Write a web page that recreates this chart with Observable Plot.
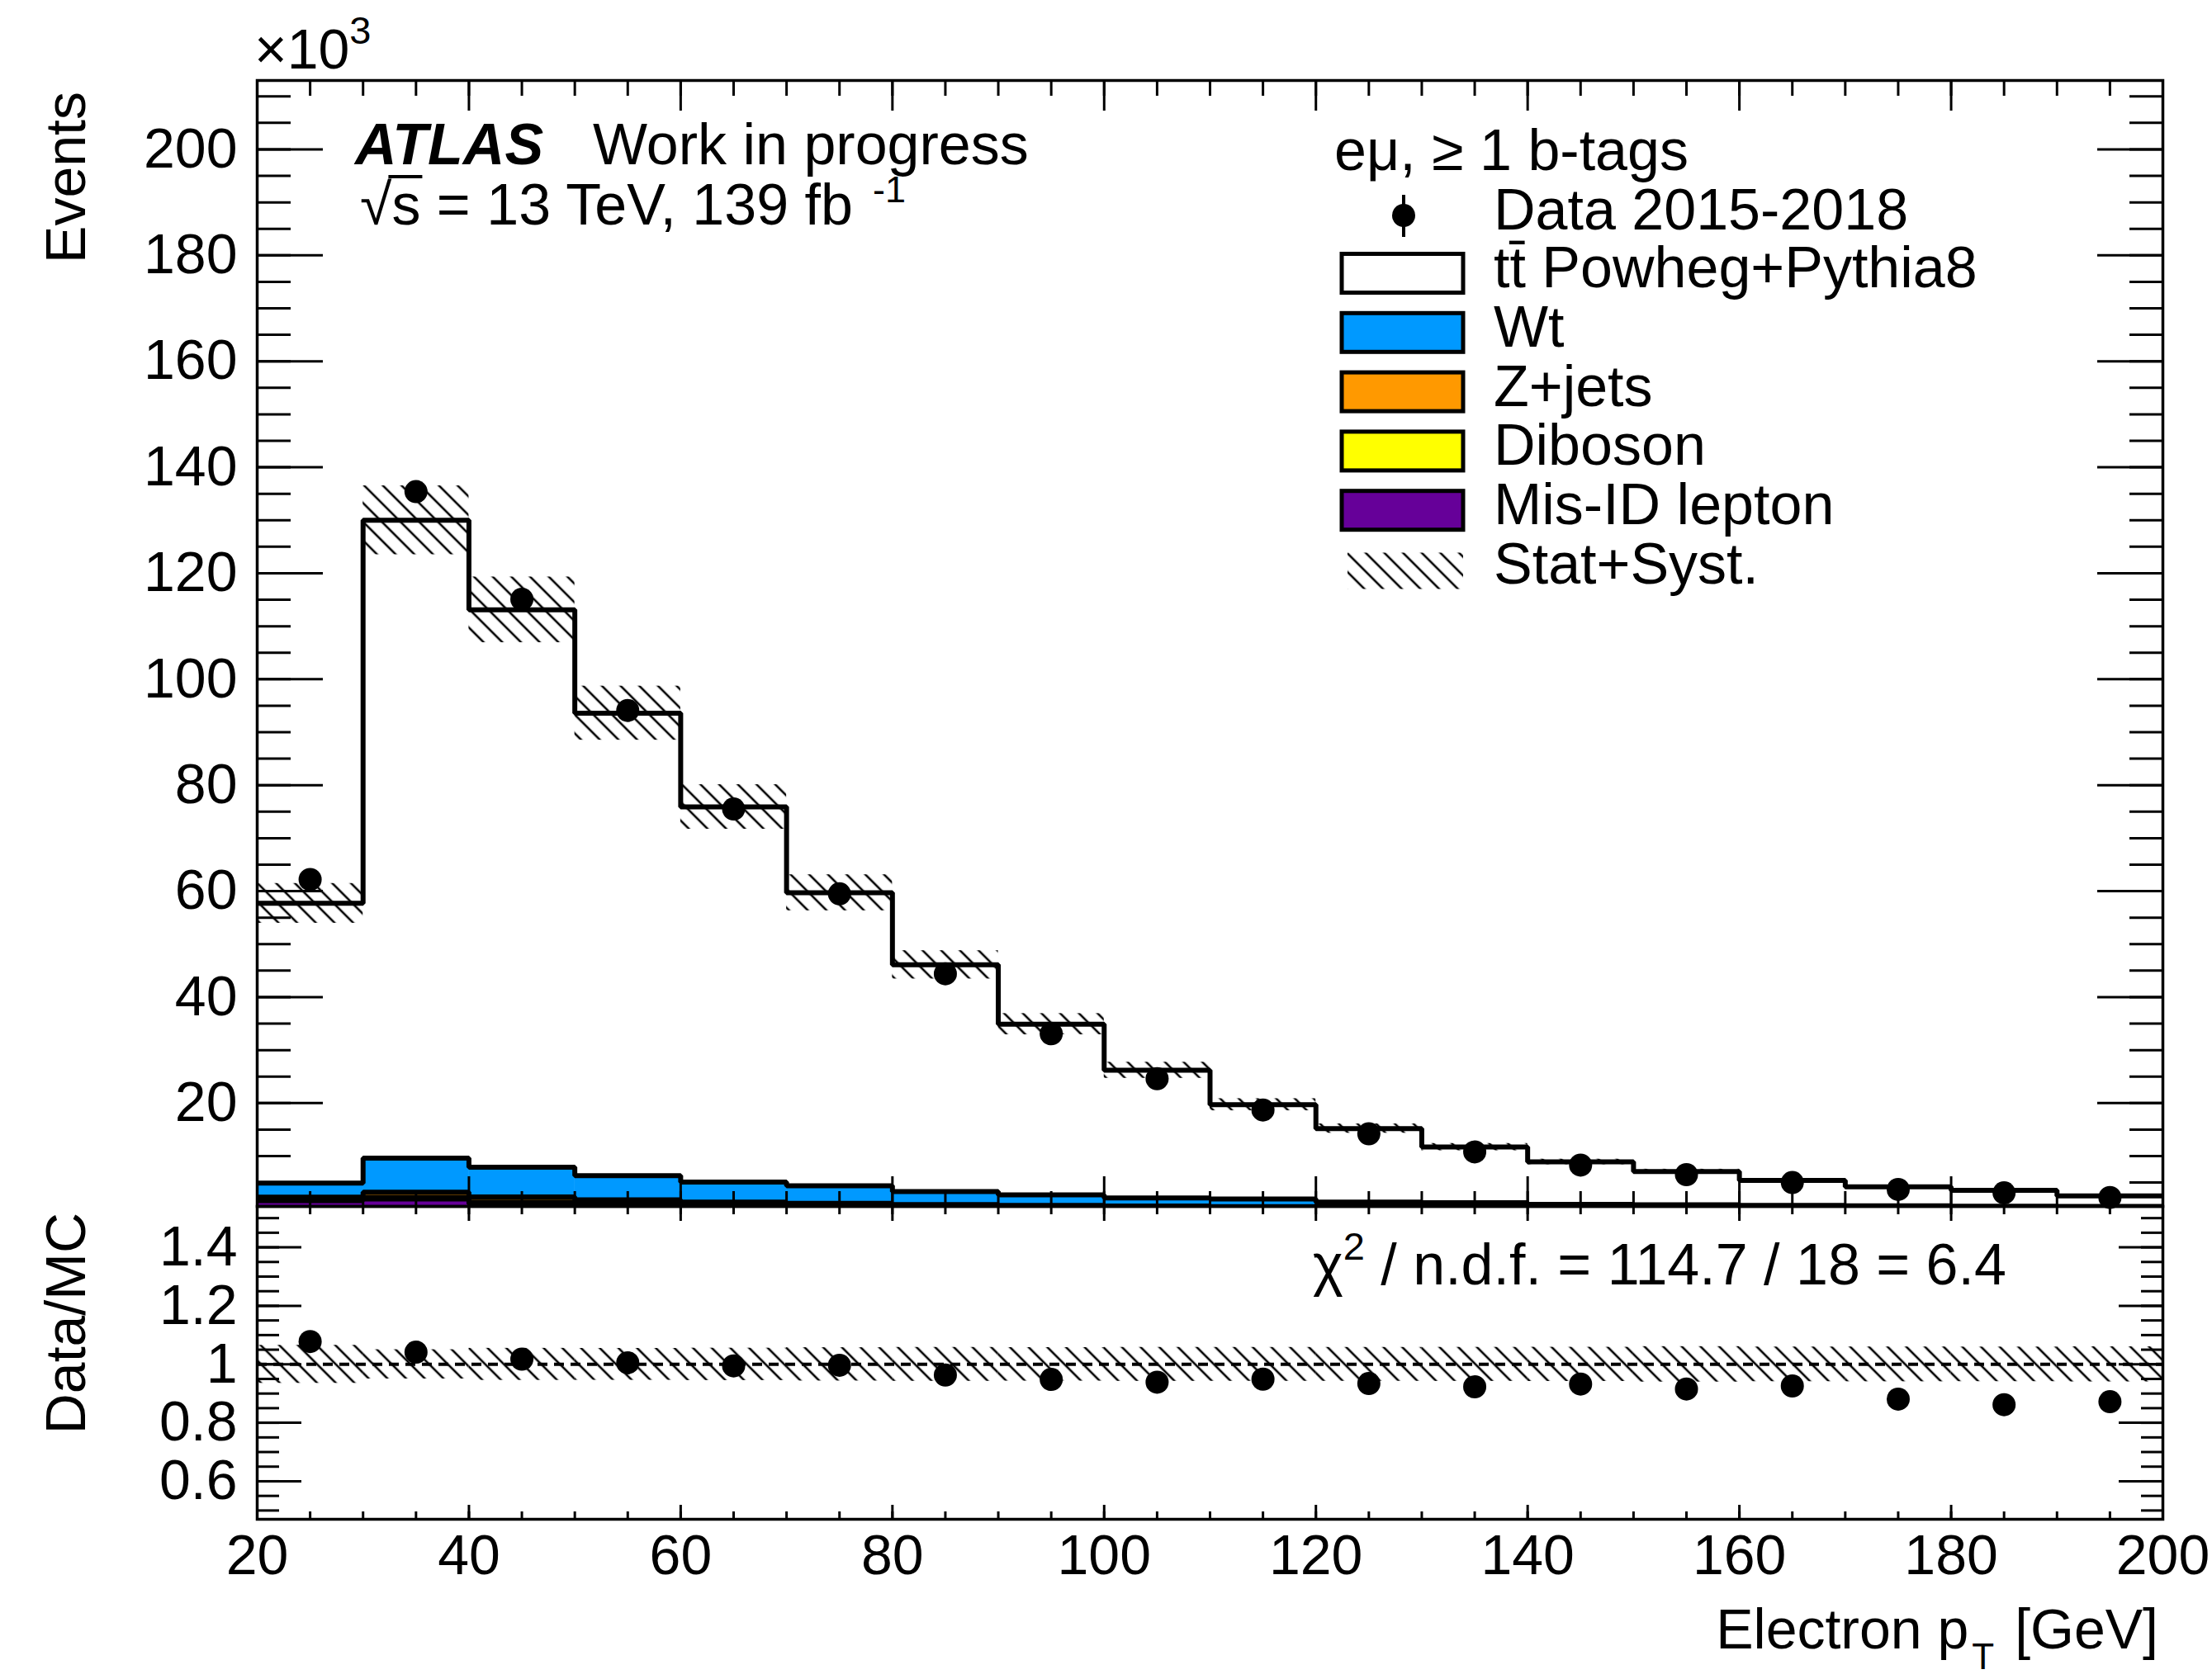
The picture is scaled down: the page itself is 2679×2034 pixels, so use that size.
<!DOCTYPE html>
<html><head><meta charset="utf-8">
<script src="https://cdn.jsdelivr.net/npm/d3@7"></script>
<script src="https://cdn.jsdelivr.net/npm/@observablehq/plot@0.6"></script>
<style>
html,body{margin:0;padding:0;background:#fff;}
#wrap{position:relative;width:2679px;height:2034px;overflow:hidden;background:#fff;}
#wrap svg.plot{position:absolute;left:0;}
</style></head><body>
<svg width="0" height="0" style="position:absolute">
<defs>
<pattern id="hatch" patternUnits="userSpaceOnUse" width="16" height="16" patternTransform="rotate(-45)">
<line x1="8" y1="-2" x2="8" y2="18" stroke="#000" stroke-width="2.6"/>
</pattern>
</defs></svg>
<div id="wrap"></div>
<script>
// ---------- data (thousands of events) ----------
const binLow  = [20,30,40,50,60,70,80,90,100,110,120,130,140,150,160,170,180,190];
const binHigh = [30,40,50,60,70,80,90,100,110,120,130,140,150,160,170,180,190,200];
const ttbar   = [52.8,120.4,105.2,87.3,70.8,55.3,42.8,32.2,24.1,17.8,13.9,10.5,8.0,6.3,4.7,3.6,3.0,2.0];
const wt      = [2.65,6.4,5.6,4.55,3.8,3.32,2.45,2.02,1.54,1.43,0.89,0.86,0.61,0.55,0.49,0.41,0.39,0.36];
const zjets   = [0.5,1.0,1.0,0.7,0.5,0.4,0.3,0.25,0.2,0.17,0.15,0.12,0.1,0.09,0.08,0.07,0.06,0.05];
const diboson = [0.15,0.3,0.3,0.25,0.2,0.18,0.15,0.13,0.11,0.1,0.09,0.08,0.07,0.06,0.05,0.05,0.04,0.04];
const misid   = [1.6,1.9,1.0,0.8,0.6,0.5,0.4,0.3,0.25,0.2,0.17,0.14,0.12,0.1,0.08,0.07,0.06,0.05];
const dataObs = [62.2,135.4,115.1,94.1,75.5,59.5,44.4,33.1,24.6,18.7,14.2,10.8,8.3,6.5,5.0,3.7,3.06,2.18];
const systUnc = [3.75,6.5,6.2,5.1,4.2,3.4,2.67,2.0,1.52,1.14,0.88,0.68,0.52,0.43,0.32,0.25,0.21,0.15];

const xMajor = [20,40,60,80,100,120,140,160,180,200];
const xMinor = d3.range(20, 201, 5);
const yMajor = [20,40,60,80,100,120,140,160,180,200];
const yMinor = d3.range(5, 213, 5);
const rMajor = [0.6,0.8,1,1.2,1.4];
const rMinor = [0.5,0.55,0.6,0.65,0.7,0.75,0.8,0.85,0.9,0.95,1,1.05,1.1,1.15,1.2,1.25,1.3,1.35,1.4,1.45,1.5];

const legendLabels = ["Data 2015-2018","tt\u0304 Powheg+Pythia8","Wt","Z+jets","Diboson","Mis-ID lepton","Stat+Syst."];
const colors = {ttbar:"#ffffff", wt:"#0099ff", zjets:"#ff9900", diboson:"#ffff00", misid:"#660099"};

// ---------- derived table ----------
const bins = binLow.map((lo, i) => {
  const c1 = misid[i], c2 = c1 + diboson[i], c3 = c2 + zjets[i], c4 = c3 + wt[i], c5 = c4 + ttbar[i];
  const dErr = Math.sqrt(dataObs[i] * 1000) / 1000;
  return {lo, hi: binHigh[i], mid: (lo + binHigh[i]) / 2, zero: 0, c1, c2, c3, c4, c5,
    data: dataObs[i], dLo: dataObs[i] - dErr, dHi: dataObs[i] + dErr,
    uLo: c5 - systUnc[i], uHi: c5 + systUnc[i],
    ratio: dataObs[i] / c5, rELo: (dataObs[i] - dErr) / c5, rEHi: (dataObs[i] + dErr) / c5,
    rLo: 1 - systUnc[i] / c5, rHi: 1 + systUnc[i] / c5};
});
const steps = key => bins.flatMap(b => [{x: b.lo, y: b[key]}, {x: b.hi, y: b[key]}]);

const W = 2679;
const FONT = "'Liberation Sans', Arial, Helvetica, sans-serif";
const FS = 68;   // tick labels
const TFS = 70;  // annotation texts
const style = {fontFamily: FONT, fontSize: FS + "px", color: "black", background: "transparent", overflow: "visible"};

const ticks = (fn, anchor, values, len) =>
  fn({anchor, ticks: values, tickSize: -len, tickFormat: () => "", label: null, strokeWidth: 3});

const stackLayer = (key, fill) => [
  Plot.rect(bins, {x1: "lo", x2: "hi", y1: "zero", y2: key, fill, stroke: fill, strokeWidth: 0.5, clip: true}),
  Plot.line(steps(key), {x: "x", y: "y", stroke: "black", strokeWidth: 6, strokeLinejoin: "miter", clip: true})
];

// ---------- main panel ----------
const main = Plot.plot({
  width: W, height: 1461, marginTop: 97, marginBottom: 0, marginLeft: 311, marginRight: 60,
  style,
  x: {domain: [20, 200], axis: null},
  y: {domain: [0.5, 213], axis: null},
  marks: [
    Plot.line(steps("c5"), {x: "x", y: "y", stroke: "black", strokeWidth: 6, strokeLinejoin: "miter", clip: true}),
    ...stackLayer("c4", colors.wt),
    ...stackLayer("c3", colors.zjets),
    ...stackLayer("c2", colors.diboson),
    ...stackLayer("c1", colors.misid),
    Plot.rect(bins, {x1: "lo", x2: "hi", y1: "uLo", y2: "uHi", fill: "url(#hatch)", clip: true}),
    Plot.ruleX(bins, {x: "mid", y1: "dLo", y2: "dHi", stroke: "black", strokeWidth: 3}),
    Plot.dot(bins, {x: "mid", y: "data", r: 14, fill: "black", stroke: "none"}),
    Plot.frame({stroke: "black", strokeWidth: 3.5}),
    Plot.axisY({anchor: "left", ticks: yMajor, tickSize: 0, tickPadding: 24, tickFormat: d => String(d), label: null}),
    ticks(Plot.axisY, "left", yMajor, 80), ticks(Plot.axisY, "left", yMinor, 41),
    ticks(Plot.axisY, "right", yMajor, 80), ticks(Plot.axisY, "right", yMinor, 41),
    ticks(Plot.axisX, "bottom", xMajor, 36), ticks(Plot.axisX, "bottom", xMinor, 18),
    ticks(Plot.axisX, "top", xMajor, 36), ticks(Plot.axisX, "top", xMinor, 18)
  ]
});
main.classList.add("plot");
main.style.top = "0px";

// ---------- ratio panel ----------
const ratio = Plot.plot({
  width: W, height: 573, marginTop: 0, marginBottom: 194, marginLeft: 311, marginRight: 60,
  style,
  x: {domain: [20, 200], axis: null},
  y: {domain: [0.47, 1.54], axis: null},
  marks: [
    Plot.rect(bins, {x1: "lo", x2: "hi", y1: "rLo", y2: "rHi", fill: "url(#hatch)", clip: true}),
    Plot.ruleY([1], {stroke: "black", strokeWidth: 4, strokeDasharray: "12,8"}),
    Plot.ruleX(bins, {x: "mid", y1: "rELo", y2: "rEHi", stroke: "black", strokeWidth: 3}),
    Plot.dot(bins, {x: "mid", y: "ratio", r: 14, fill: "black", stroke: "none"}),
    Plot.frame({stroke: "black", strokeWidth: 3.5}),
    Plot.axisY({anchor: "left", ticks: rMajor, tickSize: 0, tickPadding: 24, tickFormat: d => String(d), label: null}),
    Plot.axisX({anchor: "bottom", ticks: xMajor, tickSize: 0, tickPadding: 18, tickFormat: d => String(d), label: null}),
    ticks(Plot.axisY, "left", rMajor, 54), ticks(Plot.axisY, "left", rMinor, 27),
    ticks(Plot.axisY, "right", rMajor, 54), ticks(Plot.axisY, "right", rMinor, 27),
    ticks(Plot.axisX, "bottom", xMajor, 17), ticks(Plot.axisX, "bottom", xMinor, 9),
    ticks(Plot.axisX, "top", xMajor, 17), ticks(Plot.axisX, "top", xMinor, 9)
  ]
});
ratio.classList.add("plot");
ratio.style.top = "1461px";

const wrap = document.getElementById("wrap");
wrap.appendChild(main);
wrap.appendChild(ratio);

// ---------- annotations (main) ----------
const g = d3.select(main).append("g").attr("font-family", FONT).attr("font-size", TFS)
  .attr("fill", "black").attr("text-anchor", "start");
const t10 = g.append("text").attr("x", 308).attr("y", 83).attr("font-size", FS);
t10.append("tspan").text("\u00d710");
t10.append("tspan").attr("font-size", 47).attr("dy", -30).text("3");

g.append("text").attr("transform", "translate(103,111) rotate(-90)").attr("text-anchor", "end").attr("font-size", FS).text("Events");

g.append("text").attr("x", 430).attr("y", 199).attr("font-weight", "bold").attr("font-style", "italic").text("ATLAS");
g.append("text").attr("x", 718).attr("y", 199).text("Work in progress");
const ts = g.append("text").attr("x", 436).attr("y", 272);
const tsRoot = ts.append("tspan").text("\u221A");
const tsS = ts.append("tspan").text("s");
ts.append("tspan").text(" = 13 TeV, 139 fb");
ts.append("tspan").attr("font-size", 45).attr("dx", 24).attr("dy", -27).text("-1");
// bar over the "s" of the square root
const rootW = tsRoot.node().getComputedTextLength();
const sW = tsS.node().getComputedTextLength();
g.append("line").attr("x1", 436 + rootW - 4).attr("x2", 436 + rootW + sW + 2)
  .attr("y1", 214).attr("y2", 214).attr("stroke", "black").attr("stroke-width", 4);

// legend
g.append("text").attr("x", 1616).attr("y", 206).text("e\u03bc, \u2265 1 b-tags");
const legX = 1625, legW = 147, legH = 47, step = 71.8, top0 = 307.5;
g.append("line").attr("x1", 1700).attr("x2", 1700).attr("y1", 236).attr("y2", 287).attr("stroke", "black").attr("stroke-width", 4);
g.append("circle").attr("cx", 1700).attr("cy", 261).attr("r", 14).attr("fill", "black");
g.append("text").attr("x", 1809).attr("y", 278).text(legendLabels[0]);
const boxFills = [colors.ttbar, colors.wt, colors.zjets, colors.diboson, colors.misid];
boxFills.forEach((f, i) => {
  const y = top0 + step * i;
  g.append("rect").attr("x", legX).attr("y", y).attr("width", legW).attr("height", legH)
    .attr("fill", f).attr("stroke", "black").attr("stroke-width", 5);
  g.append("text").attr("x", 1809).attr("y", y + legH / 2 + 17).text(legendLabels[i + 1]);
});
const hy = top0 + step * 5;
g.append("rect").attr("x", 1632).attr("y", hy + 3).attr("width", 140).attr("height", 44).attr("fill", "url(#hatch)");
g.append("text").attr("x", 1809).attr("y", hy + legH / 2 + 17).text(legendLabels[6]);

// ---------- annotations (ratio) ----------
const r = d3.select(ratio).append("g").attr("font-family", FONT).attr("font-size", TFS)
  .attr("fill", "black").attr("text-anchor", "start");
r.append("text").attr("transform", "translate(103,8) rotate(-90)").attr("text-anchor", "end").attr("font-size", FS).text("Data/MC");
const chi = r.append("text").attr("x", 1590).attr("y", 95);
chi.append("tspan").text("\u03c7");
chi.append("tspan").attr("font-size", 47).attr("dy", -30).text("2");
chi.append("tspan").attr("dy", 30).text(" / n.d.f. = 114.7 / 18 = 6.4");
const xt = r.append("text").attr("x", 2614).attr("y", 536).attr("text-anchor", "end").attr("font-size", FS);
xt.append("tspan").text("Electron p");
xt.append("tspan").attr("font-size", 44).attr("dx", 4).attr("dy", 25).text("T");
xt.append("tspan").attr("dx", 6).attr("dy", -25).text(" [GeV]");
</script>
</body></html>
